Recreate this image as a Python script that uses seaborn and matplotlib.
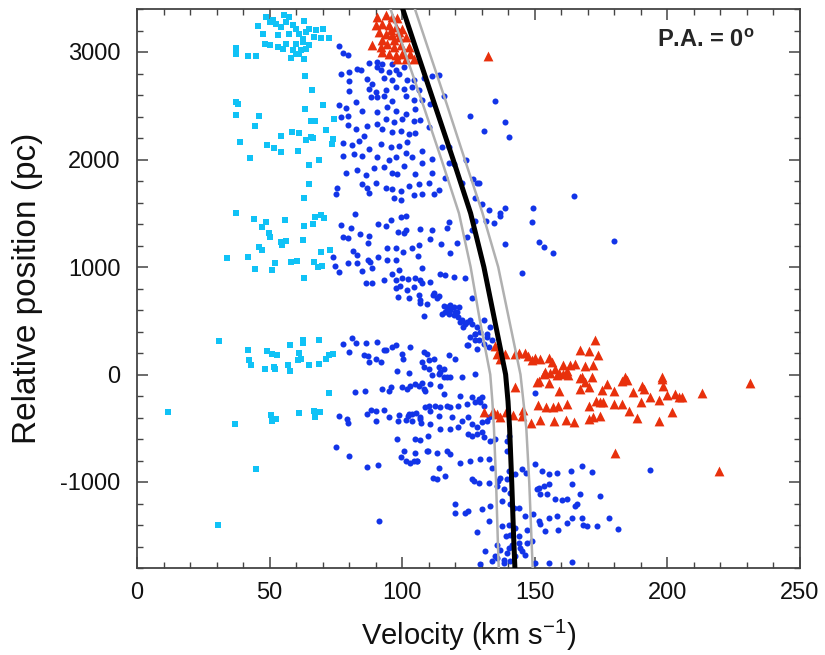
import matplotlib
matplotlib.use("Agg")
import matplotlib.pyplot as plt
import seaborn as sns
import pandas as pd
from matplotlib.ticker import MultipleLocator

# ---------------- data (velocity km/s, relative position pc) ----------------
cyan_pts = [
    (48.75, 3327), (55.6, 3343), (57.5, 3327), (63.1, 3290), (45.6, 3240), (51.25, 3296),
    (52.5, 3259), (54.4, 3234), (58.75, 3249), (50, 3280), (56.25, 3280), (60, 3218),
    (65, 3218), (67.5, 3209), (70, 3218), (47.5, 3165), (53.1, 3156), (57.5, 3171),
    (61.25, 3171), (63.75, 3187), (62.5, 3125), (66.9, 3140), (69.4, 3134), (72.5, 3134),
    (48.1, 3072), (50, 3062), (53.1, 3047), (56.25, 3078), (60, 3078), (62.5, 3093),
    (65, 3062), (55, 3031), (58.75, 3016), (61.9, 3016), (63.75, 3031), (37.5, 3037),
    (37.25, 2978), (41.9, 2963), (45, 2963), (58.1, 2947), (61.25, 2984), (63.1, 2938),
    (60, 2984), (63.4, 2776), (66, 2651), (37.25, 2533), (38.1, 2517), (37.5, 2414),
    (63.4, 2470), (70, 2508), (46, 2402), (65.6, 2361), (67.25, 2355), (44.6, 2315),
    (74.4, 2377), (71.25, 2277), (54.4, 2218), (58.5, 2252), (61.25, 2246), (65.6, 2206),
    (63.75, 2181), (66.5, 2199), (38.75, 2162), (49, 2131), (51.5, 2103), (54.4, 2066),
    (60.6, 2075), (74, 2187), (73.5, 2143), (42.5, 2013), (68.5, 2000), (65, 1950),
    (65, 1770), (63.1, 1639),
    (37.5, 1498), (44, 1445), (48.5, 1420), (47, 1368), (49.75, 1315), (50.25, 1283),
    (55.9, 1433), (54.4, 1234), (56.25, 1246), (54.75, 1202), (63.1, 1383), (66.25, 1399),
    (67.1, 1464), (69.4, 1486), (70.4, 1455), (62.6, 1252), (46, 1190), (47.1, 1159),
    (34.1, 1081), (41.75, 1097), (44.5, 978), (51, 972), (51.9, 1034), (58.1, 1050),
    (60.4, 1056), (66.9, 1050), (69.4, 1140), (72.9, 1156), (68.4, 997), (69.75, 1012),
    (62.9, 894),
    (30.9, 312), (41.9, 231), (42.25, 131), (43.1, 84), (49, 215), (51, 193), (52.9, 184),
    (48.25, 53), (51.6, 69), (52.1, 47), (57.75, 274), (62.5, 318), (62.75, 293),
    (68.75, 318), (61, 199), (60.6, 131), (61.9, 147), (64.75, 84), (68.5, 100),
    (56.9, 84), (57.75, 31), (71.25, 147), (72.5, 178), (73.75, 193),
    (11.6, -352), (36.9, -461), (50.6, -377), (51, -436), (52.5, -417), (60.9, -361),
    (66.6, -336), (67.25, -392), (69, -346), (72.5, -168), (44.9, -878), (30.6, -1402),
]

red_pts = [
    (90.6, 3327), (93.75, 3343), (96.25, 3327), (98.1, 3312), (92.5, 3265), (95, 3249),
    (97.5, 3234), (100, 3218), (91.25, 3187), (93.75, 3171), (96.25, 3156), (98.75, 3140),
    (101.25, 3140), (88.75, 3062), (91.9, 3047), (94.4, 3078), (96.9, 3047), (99.4, 3062),
    (102.5, 3047), (92.5, 3000), (95, 2984), (97.5, 2969), (100, 2984), (103.1, 2984),
    (98.1, 2938), (101.25, 2938), (104.4, 2938), (92.5, 3109), (96.9, 3109), (90, 3249),
    (98.75, 3187), (95.6, 3209), (132.2, 2960),
    (172.8, 324), (167.1, 231), (170.6, 215), (174, 178), (135.1, 265), (135.7, 193),
    (138.8, 193), (137, 140), (142.6, 187), (143.9, 199), (146.4, 203), (147.6, 172),
    (148.9, 131), (150.2, 153), (152, 147), (155.2, 156), (156.4, 115), (153.9, 22),
    (157.7, 53), (160.8, 90), (162.1, 37), (163.3, 84), (165.2, 100), (168.8, 78),
    (171.9, 90), (159, 13), (167.7, -25), (184.1, -25), (197.9, -25),
    (153.3, 6), (155.8, 12), (158.3, 0), (160.8, 6), (162.7, 0), (151.4, -62),
    (155.2, -81), (159.3, -150), (167.1, -31), (169, -72), (171.4, -25), (167.1, -134),
    (170.3, -118), (175.3, -143), (177.4, -93), (179.9, -156), (182.8, -56), (184.7, -50),
    (187.2, -165), (190.4, -103), (191, -134), (193.3, -206), (197.9, -40), (198.5, -103),
    (199.8, -187), (202.9, -181), (205.5, -206), (196.7, -237), (204.2, -212), (213, -174),
    (231.2, -81), (172.9, -243), (174.4, -259), (175.9, -259), (179.9, -274), (182.8, -274),
    (190, -259), (170.3, -290), (151.3, -280), (154.4, -299), (157, -299), (158.7, -290),
    (162.1, -274), (185.7, -343), (201.7, -352), (170.6, -414), (172.1, -399), (174.7, -389),
    (188.7, -405), (196.7, -436), (148.6, -452), (152, -424), (157.1, -430), (161.8, -424),
    (164.6, -445), (142.6, -112), (130.7, -352), (134.4, -336), (135.7, -368), (139.2, -352),
    (141.9, -374), (145.5, -330), (145.1, -383), (137, -399), (180.3, -726), (219.3, -897),
    (150.8, -72),
]

blue_pts = [
    (76.25, 3053), (77.5, 2991), (79.4, 2969), (87.5, 2900), (90.6, 2907), (92.5, 2891),
    (96.25, 2891), (90.6, 2860), (91.9, 2829), (95, 2813), (97.5, 2829), (100.6, 2860),
    (76.9, 2791), (80, 2813), (83.1, 2844), (84.6, 2829), (80, 2726), (86.9, 2751),
    (88.75, 2704), (93.1, 2760), (96.25, 2735), (98.75, 2791), (101.9, 2741), (104.4, 2735),
    (108.1, 2760), (111.25, 2773), (113.75, 2782), (80, 2636), (87.5, 2657), (90, 2626),
    (93.75, 2642), (97.5, 2673), (100.6, 2657), (103.75, 2679), (106.25, 2642), (88.4, 2579),
    (90.6, 2586), (93.1, 2595), (96.25, 2548), (101.25, 2595), (104.4, 2555), (107.5, 2555),
    (115.6, 2595), (76.25, 2508), (78.75, 2480), (82.5, 2533), (85, 2455), (90.6, 2439),
    (94.4, 2486), (97.5, 2455), (101.25, 2424), (105, 2470), (110.6, 2517), (76.9, 2393),
    (79.4, 2408), (86.9, 2315), (90.6, 2330), (93.75, 2377), (96.9, 2346), (100, 2377),
    (104.4, 2355), (106.9, 2368), (110, 2299), (79.4, 2324), (82.5, 2284), (85.6, 2221),
    (92.5, 2284), (96.25, 2252), (99.4, 2268), (102.5, 2237), (105, 2243), (77.5, 2150),
    (81.25, 2137), (83.75, 2175), (87.5, 2097), (91.9, 2143), (95.6, 2112), (98.75, 2128),
    (101.9, 2159), (107.5, 2081), (115, 2112), (117.5, 2112), (77.5, 2034), (81.9, 2050),
    (85, 2034), (90.6, 2019), (95, 1994), (97.5, 2019), (101.25, 2056), (103.75, 2019),
    (111.25, 2003), (117.5, 1972), (78.75, 1872), (83.1, 1900), (86.25, 1857), (89.4, 1925),
    (93.1, 1932), (96.25, 1879), (98.1, 1869), (100.6, 1941), (104.75, 1863), (107.5, 1972),
    (111.25, 1879), (116.25, 1832), (119.4, 1956), (75.6, 1732), (75, 1682), (85, 1770),
    (86.9, 1738), (90, 1785), (93.75, 1738), (96.25, 1723), (99.4, 1707), (102.5, 1754),
    (106.25, 1776), (110, 1785), (113.75, 1714), (122.5, 1785), (128.1, 1785), (127.5, 1645),
    (87.5, 1692), (104.4, 1670), (107.5, 1682), (111.9, 1676), (96.9, 1645), (99.4, 1620),
    (135.1, 2542), (130.7, 2268), (138.6, 2346), (140.3, 2206), (125.6, 2402), (124.1, 1994),
    (128.8, 1785), (126.6, 1816),
    (82.1, 1492), (77.1, 1392), (80.6, 1361), (84, 1308), (87.5, 1290), (87.1, 1227),
    (91, 1402), (93.75, 1377), (95.6, 1439), (99.4, 1464), (101.6, 1477), (98.5, 1330),
    (100.6, 1315), (101.25, 1346), (106.9, 1352), (111.25, 1340), (110.4, 1259), (116.9, 1361),
    (117.5, 1414), (120.6, 1221), (124.4, 1277), (126.25, 1346), (127.5, 1424), (114.75, 1212),
    (117.9, 1128), (77.75, 1283), (79.4, 1268), (74, 1090), (74.75, 1009), (76, 956),
    (79.4, 1040), (81.5, 1150), (83.1, 1112), (83.1, 1034), (85, 963), (87.25, 1065),
    (87.75, 1050), (88.5, 988), (91, 1090), (94.4, 1181), (97.5, 1174), (100.25, 1137),
    (103.75, 1174), (106, 1103), (106.5, 1206), (94.4, 1065), (97.5, 1065), (96.25, 935),
    (98.75, 972), (97.5, 879), (100, 894), (102.25, 885), (105, 894), (107.5, 994),
    (106.9, 879), (110.6, 863), (114.4, 935), (116.25, 925), (119.4, 910), (123.75, 900),
    (86.25, 854), (88.75, 847), (93.1, 879), (97.5, 801), (99, 822), (101.9, 785),
    (104.4, 810), (107.5, 847), (111.9, 754), (113.75, 729), (126.25, 707), (98.5, 717),
    (102.5, 707), (106.5, 738), (106.9, 667), (115.6, 636), (116.9, 614), (118.1, 645),
    (121.25, 629), (117.5, 567), (120, 583), (121.9, 489), (123.75, 474), (125.6, 505),
    (115, 567), (108.1, 548), (127.5, 380), (125, 271), (128.1, 240), (127.5, 318),
    (77.5, 280), (81, 343), (82.5, 296), (86.25, 296), (90.6, 302), (93.1, 224),
    (96.25, 255), (97.5, 271), (80, 209), (85.6, 178), (87.25, 168), (90, 140),
    (91.9, 115), (87.5, 115), (93.75, 231), (100, 193), (100.25, 147), (103.1, 255),
    (108.1, 209), (109.4, 193), (110, 131), (111.9, 147), (113.75, 69), (115.6, 53),
    (117.5, 178), (120, 147), (98.1, 31), (102.5, 13), (107.5, 115), (108.1, 69),
    (110, 53), (111.25, -9), (114.4, 22), (116.9, -25), (122.5, -25), (127.5, 6),
    (130, 1589), (132.6, 1526), (137, 1502), (136.7, 1477), (138.8, 1548), (134.8, 1408),
    (131.7, 1430), (138.6, 1215), (145.1, 947), (149.3, 1545), (149.1, 1414), (151.4, 1234),
    (153.5, 1184), (156.8, 1134), (164.9, 1660), (179.9, 1246), (130.7, 505), (133.2, 442),
    (131.9, 380), (133.8, 318), (116.8, 629), (118.1, 598), (119.4, 629), (120.6, 583),
    (122.5, 505), (124.4, 489), (126.3, 474), (128.2, 442), (129.4, 396), (127.5, 380),
    (125.6, 349), (124.4, 271), (128.8, 318), (130.7, 287), (131.9, 349), (132.6, 255),
    (123.1, 442), (121.2, 536), (116.2, 583), (119.4, 551), (111.8, 738), (113.1, 707),
    (109.3, 660), (106.8, 692),
    (82.1, -159), (86, -150), (92.5, -134), (95, -156), (95.9, -112), (100, -112),
    (101.9, -134), (103.1, -103), (105, -93), (107.5, -81), (108.1, -134), (110.6, -87),
    (76.25, -383), (79.1, -414), (79.75, -455), (86.9, -368), (88.1, -330), (90, -336),
    (90.25, -430), (93.1, -330), (95, -399), (98.5, -430), (98.75, -377), (101.25, -424),
    (102.25, -383), (103.75, -368), (105.25, -358), (106.9, -414), (103.75, -436), (107.25, -455),
    (108.75, -305), (110, -290), (110.6, -343), (75, -670), (80, -754), (86.6, -860),
    (91, -844), (98.1, -601), (99.4, -766), (100.6, -716), (101.25, -804), (102.9, -819),
    (105, -726), (105.4, -804), (106.6, -611), (109.4, -716), (109.75, -570), (91.25, -1364),
    (106.2, -103), (108.7, -150), (106.8, -399), (110.6, -461), (104.9, -601), (109.9, -710),
    (105.5, -804), (111.8, -959), (102.4, -368), (104.4, -804),
    (113.7, 6), (115.6, -25), (118.1, -19), (114.3, -103), (115.6, -181), (121.9, -196),
    (126.3, -212), (128.8, -227), (130, -212), (112.4, -290), (114.3, -305), (116.8, -290),
    (118.1, -305), (121.2, -290), (124.4, -274), (127.5, -259), (129.4, -259), (130.7, -290),
    (113.7, -383), (118.7, -392), (122.5, -430), (125, -399), (126.3, -461), (128.2, -492),
    (130, -445), (131.9, -430), (132.6, -399), (114.3, -508), (118.1, -508), (121.2, -492),
    (125, -554), (126.3, -570), (128.2, -554), (130, -539), (130.7, -586), (133.2, -617),
    (135.1, -601), (139.5, -617), (140.1, -570), (113.1, -726), (116.8, -710), (118.1, -741),
    (121.9, -819), (125.6, -804), (129.4, -788), (132.6, -788), (139.5, -710), (150.2, -174),
    (113.7, -866), (116.2, -944), (113.1, -975), (126.3, -975), (126.9, -991), (128.8, -1006),
    (132.6, -1006), (133.8, -866), (137, -959), (136.3, -991), (139.5, -975), (135.7, -1037),
    (138.2, -1068), (140.7, -1100), (140.1, -897), (142.6, -928), (145.1, -882), (146.8, -913),
    (150.2, -835), (152.7, -897), (155.2, -922), (158.3, -919), (163.6, -897), (167.7, -850),
    (171.5, -906), (150.8, -1068), (151.4, -1053), (153.3, -1037), (155.2, -1022), (152, -1115),
    (154.5, -1115), (157.7, -1162), (160.2, -1171), (162.1, -1162), (167.1, -1115), (174.7, -1131),
    (164, -1022), (120, -1209), (120, -1287), (123.8, -1287), (125, -1271), (130, -1255),
    (132.6, -1364), (128.2, -1464), (131.3, -1645), (133.2, -1224), (137.6, -1177), (140.7, -1209),
    (142, -1240), (143.9, -1240), (146.4, -1318), (137.6, -1411), (140.1, -1396), (142.6, -1427),
    (139.2, -1505), (140.7, -1489), (143.9, -1505), (141.4, -1582), (143.9, -1567), (144.5, -1614),
    (147, -1567), (148.9, -1551), (147, -1442), (149.5, -1302), (151.4, -1364), (152, -1389),
    (153.9, -1458), (155.2, -1333), (158.3, -1318), (158.9, -1442), (162.1, -1380), (164, -1333),
    (165.2, -1224), (165.9, -1209), (167.7, -1333), (168.1, -1402), (169.6, -1411), (173.4, -1411),
    (177.8, -1333), (181.2, -1433), (135.7, -1582), (137, -1629), (135.1, -1691), (133.8, -1732),
    (135.7, -1707), (138.2, -1723), (139.5, -1660), (140.1, -1614), (142.6, -1691), (145.1, -1645),
    (146.4, -1676), (129.4, -1763), (138.2, -1754), (140.7, -1738), (150.2, -1754), (155.2, -1754),
    (164, -1745), (193.5, -888),
]

# model rotation curve (black) and its envelope (gray)
curve_pos = [3400, 3000, 2500, 2000, 1500, 1000, 500, 0, -250, -500, -1000, -1500, -1800]
curve_vel = [100.2, 105.6, 112.4, 119.2, 125.8, 130.8, 134.9, 139.0, 139.9, 140.5, 141.3, 142.0, 142.5]
upper_vel = [104.8, 110.2, 117.0, 123.6, 130.3, 136.2, 140.4, 144.6, 145.7, 146.8, 147.9, 148.7, 149.2]
lower_vel = [95.6, 101.0, 108.0, 114.8, 121.4, 125.8, 129.3, 133.2, 134.0, 134.6, 135.4, 136.0, 136.4]

x_ticks = [0, 50, 100, 150, 200, 250]
y_ticks = [-1000, 0, 1000, 2000, 3000]

# ---------------- plotting ----------------
sns.set_theme(style="ticks")
plt.rcParams["font.family"] = ["Liberation Sans", "DejaVu Sans"]
plt.rcParams["mathtext.fontset"] = "custom"
plt.rcParams["mathtext.rm"] = "Liberation Sans"
plt.rcParams["mathtext.bf"] = "Liberation Sans:bold"
plt.rcParams["axes.unicode_minus"] = False

fig = plt.figure(figsize=(8.25, 6.55), dpi=100)
ax = fig.add_axes([137 / 825, 1 - 568 / 655, 663 / 825, 559 / 655])

cyan_df = pd.DataFrame(cyan_pts, columns=["v", "y"])
red_df = pd.DataFrame(red_pts, columns=["v", "y"])
blue_df = pd.DataFrame(blue_pts, columns=["v", "y"])
curve_df = pd.DataFrame({"y": curve_pos, "v": curve_vel, "up": upper_vel, "lo": lower_vel})

sns.scatterplot(data=blue_df, x="v", y="y", ax=ax, marker="o", s=19,
                color="#1234e8", linewidth=0, zorder=2)
sns.scatterplot(data=cyan_df, x="v", y="y", ax=ax, marker="s", s=17,
                color="#10c2f6", linewidth=0, zorder=2)
sns.scatterplot(data=red_df, x="v", y="y", ax=ax, marker="^", s=50,
                color="#e8300c", linewidth=0, zorder=3)

sns.lineplot(data=curve_df, x="lo", y="y", ax=ax, sort=False, estimator=None,
             color="#b0b0b0", linewidth=1.8, zorder=4)
sns.lineplot(data=curve_df, x="up", y="y", ax=ax, sort=False, estimator=None,
             color="#b0b0b0", linewidth=1.8, zorder=4)
sns.lineplot(data=curve_df, x="v", y="y", ax=ax, sort=False, estimator=None,
             color="black", linewidth=3.6, zorder=5)

ax.set_xlim(0, 250)
ax.set_ylim(-1800, 3400)
ax.set_xticks(x_ticks)
ax.set_yticks(y_ticks)
ax.xaxis.set_minor_locator(MultipleLocator(10))
ax.yaxis.set_minor_locator(MultipleLocator(200))
ax.tick_params(which="both", direction="in", top=True, right=True,
               colors="#444444", labelcolor="#111111", labelsize=17)
ax.tick_params(which="major", length=8, width=1.1)
ax.tick_params(which="minor", length=4, width=1.0)
ax.tick_params(axis="y", which="major", pad=12)
ax.tick_params(axis="x", which="major", pad=10)
for sp in ax.spines.values():
    sp.set_linewidth(1.3)
    sp.set_color("#444444")

ax.set_xlabel("Velocity (km s$^{-1}$)", fontsize=21, labelpad=10, color="#111111")
ax.set_ylabel("Relative position (pc)", fontsize=24, labelpad=12, color="#111111")

ax.text(0.932, 0.943, r"P.A. = 0$^{\mathbf{o}}$", transform=ax.transAxes,
        ha="right", va="center", fontsize=17, fontweight="bold")

fig.savefig("out.png", dpi=100)
